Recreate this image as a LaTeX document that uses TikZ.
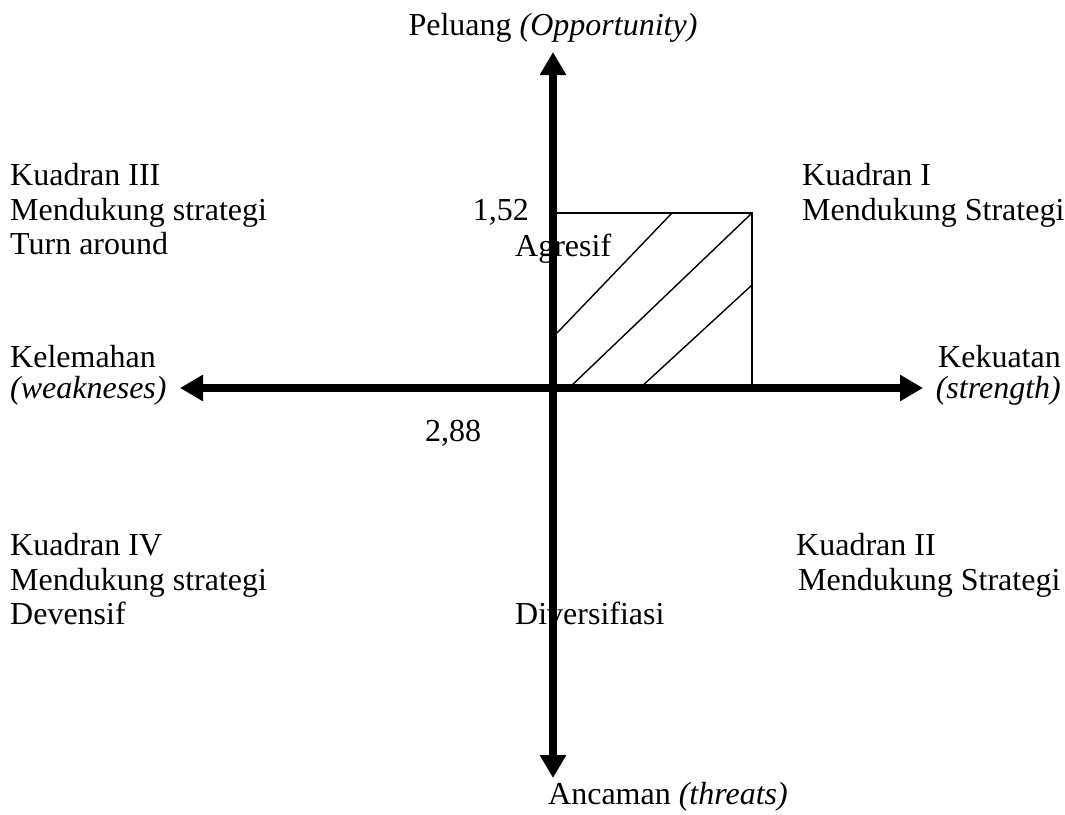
\documentclass[tikz,border=0pt]{standalone}
\usepackage{fontspec}
\setmainfont{Liberation Serif}
\usetikzlibrary{arrows.meta}
\begin{document}
\begin{tikzpicture}[x=1pt,y=-1pt,
  lbl/.style={inner sep=0pt,font=\fontsize{32}{36}\selectfont},
  axis/.style={line width=8pt,-{Triangle[width=25pt,length=23pt]}},
  thin/.style={line width=1.4pt}]
\useasboundingbox (0,0) rectangle (1065,814);
% axis coordinates
\coordinate (O) at (553,388);
\coordinate (T) at (553,52);
\coordinate (B) at (553,778);
\coordinate (L) at (180,388);
\coordinate (R) at (923,388);
\draw[axis] (O) -- (T);
\draw[axis] (O) -- (B);
\draw[axis] (O) -- (L);
\draw[axis] (O) -- (R);
% hatched box
\coordinate (bl) at (553,388);
\coordinate (tr) at (752,213);
\draw[thin] (553,213) -- (tr) -- (752,388);
\draw[thin] (557,333) -- (672,213);
\draw[thin] (569,388) -- (752,213);
\draw[thin] (640,388) -- (752,285);
% labels
\node[lbl,anchor=base] (peluang) at (553,35) {Peluang \textit{(Opportunity)}};
\node[lbl,anchor=base west] (ancaman) at (548,804) {Ancaman \textit{(threats)}};
\node[lbl,anchor=base west] (k3a) at (10,185) {Kuadran III};
\node[lbl,anchor=base west] (k3b) at (10,220) {Mendukung strategi};
\node[lbl,anchor=base west] (k3c) at (10,254) {Turn around};
\node[lbl,anchor=base west] (k1a) at (802,185) {Kuadran I};
\node[lbl,anchor=base west] (k1b) at (802,220) {Mendukung Strategi};
\node[lbl,anchor=base east] (v152) at (529,220) {1,52};
\node[lbl,anchor=base west] (agresif) at (515,256) {Agresif};
\node[lbl,anchor=base west] (kel) at (10,367) {Kelemahan};
\node[lbl,anchor=base west] (weak) at (10,398) {\textit{(weakneses)}};
\node[lbl,anchor=base east] (kek) at (1061,367) {Kekuatan};
\node[lbl,anchor=base east] (str) at (1061,398) {\textit{(strength)}};
\node[lbl,anchor=base west] (v288) at (425,441) {2,88};
\node[lbl,anchor=base west] (k4a) at (10,555) {Kuadran IV};
\node[lbl,anchor=base west] (k4b) at (10,590) {Mendukung strategi};
\node[lbl,anchor=base west] (k4c) at (10,624) {Devensif};
\node[lbl,anchor=base west] (k2a) at (796,555) {Kuadran II};
\node[lbl,anchor=base west] (k2b) at (798,590) {Mendukung Strategi};
\node[lbl,anchor=base west] (div) at (515,624) {Diversifiasi};
\end{tikzpicture}
\end{document}
